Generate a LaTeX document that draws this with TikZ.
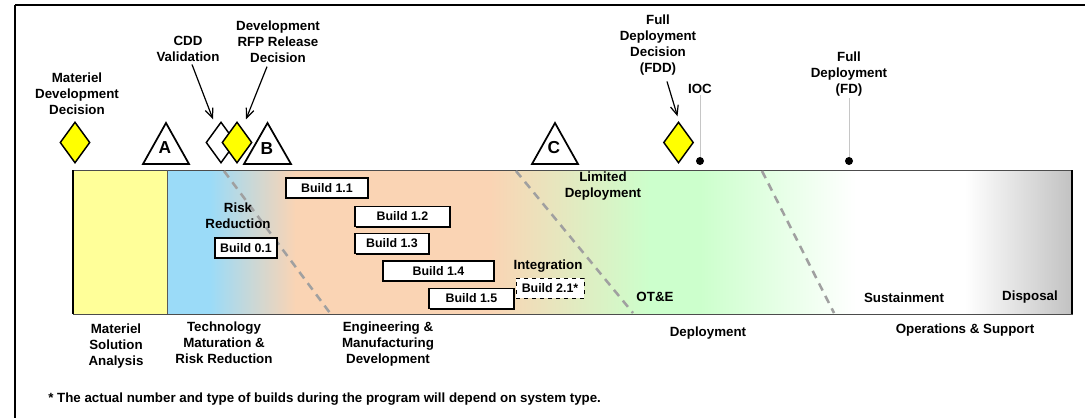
\documentclass[tikz,border=0pt]{standalone}
\usepackage{fontspec}
\setmainfont{Liberation Sans}
\usetikzlibrary{shapes.geometric,arrows.meta,shadows}
\definecolor{msayellow}{HTML}{FFFF99}
\definecolor{msyellow}{HTML}{FFFF00}
\definecolor{tmblue}{HTML}{9BDBF8}
\definecolor{peach}{HTML}{FAD4B4}
\definecolor{lgreen}{HTML}{CCFFCC}
\definecolor{dgrey}{HTML}{C2C2C2}
\definecolor{dashgrey}{HTML}{A0A0A0}
\begin{document}
\begin{tikzpicture}[x=0.75pt,y=-0.75pt]
\tikzset{
 lbl/.style={font=\fontsize{10}{12}\selectfont\bfseries, align=center, inner sep=0pt},
 buildbox/.style={draw, fill=white, line width=0.9pt, font=\fontsize{9.3}{11}\selectfont\bfseries, inner sep=0pt, minimum height=15pt, drop shadow={shadow xshift=0.8pt, shadow yshift=-0.8pt, fill=black, opacity=1}},
 dashbox/.style={draw, dashed, fill=white, line width=0.7pt, font=\fontsize{9.3}{11}\selectfont\bfseries, inner sep=0pt, minimum height=15pt},
 ms/.style={diamond, draw, line width=1.1pt, minimum width=22.5pt, minimum height=30.75pt, inner sep=0pt},
 phase/.style={dashgrey, line width=1.9pt, dash pattern=on 6pt off 4.5pt},
 tri/.style={draw, fill=white, line width=1.3pt, line join=miter},
 trilet/.style={font=\fontsize{13}{13}\selectfont\bfseries, inner sep=0pt},
 ptr/.style={line width=0.9pt, -{Straight Barb[length=7pt,width=6pt]}},
 stem/.style={gray!45, line width=0.6pt},
 dot/.style={circle, fill=black, inner sep=0pt, minimum size=6pt},
}
\useasboundingbox (0,0) rectangle (1085,418);
% frame
\draw[line width=1.5pt] (15,5) -- (1085,5);
\draw[line width=1.1pt] (15,5) -- (15,418);
% band
\fill[msayellow] (73,170) rectangle (167.5,314);
\fill[tmblue] (167,170) rectangle (210.5,314);
\shade[left color=tmblue,right color=peach] (210,170) rectangle (295.5,314);
\fill[peach] (295,170) rectangle (490.5,314);
\shade[left color=peach,right color=lgreen] (490,170) rectangle (650.5,314);
\fill[lgreen] (650,170) rectangle (700.5,314);
\shade[left color=lgreen,right color=white] (700,170) rectangle (855.5,314);
\fill[white] (855,170) rectangle (965.5,314);
\shade[left color=white,right color=dgrey] (965,170) rectangle (1072,314);
\draw[gray!60!black, line width=0.6pt] (73,170) rectangle (1072,314);
\draw[gray!70!black, line width=0.5pt] (167,170) -- (167,314);
\draw[line width=1.2pt] (73,170) -- (73,314);
\draw[line width=1.2pt] (1072,170) -- (1072,314);
% phase dividers
\draw[phase] (224,171) -- (330,313);
\draw[phase] (516,171) -- (633,313);
\draw[phase] (762,171) -- (834,313);
% builds
\node[buildbox, minimum width=61.5pt] (b11) at (327,188) {Build 1.1};
\node[buildbox, minimum width=46.5pt] (b01) at (246,248) {Build 0.1};
\node[buildbox, minimum width=71.25pt] (b12) at (402.5,216.5) {Build 1.2};
\node[buildbox, minimum width=55.5pt] (b13) at (392,243.5) {Build 1.3};
\node[buildbox, minimum width=83.25pt] (b14) at (438.5,271) {Build 1.4};
\node[buildbox, minimum width=63.75pt] (b15) at (471.5,298.5) {Build 1.5};
\node[dashbox, minimum width=51pt] (b21) at (550,288) {Build 2.1*};
% band labels
\node[lbl] (risk) at (238,215.5) {Risk\\Reduction};
\node[lbl] (ltd) at (603,186) {Limited\\Deployment};
\node[lbl] (integ) at (548,266) {Integration};
\node[lbl] (ote) at (655,297) {OT\&E};
\node[lbl] (sust) at (904,298) {Sustainment};
\node[lbl] (disp) at (1030,297) {Disposal};
% phase names
\node[lbl] (msa) at (116,346) {Materiel\\Solution\\Analysis};
\node[lbl] (tmrr) at (224,343) {Technology\\Maturation \&\\Risk Reduction};
\node[lbl] (emd) at (388,344) {Engineering \&\\Manufacturing\\Development};
\node[lbl] (pd) at (708,333) {Deployment};
\node[lbl] (os) at (965,330) {Operations \& Support};
\node[lbl, anchor=west] (note) at (48,399) {* The actual number and type of builds during the program will depend on system type.};
% milestones
\node[ms, fill=msyellow] (mdd) at (75,142.5) {};
\node[lbl] (mddl) at (77,93.5) {Materiel\\Development\\Decision};
\draw[tri] (166,123) -- (189,164) -- (143,164) -- cycle;
\node[trilet] (ma) at (165,148) {A};
\node[ms, fill=white] (cdd) at (221,142.5) {};
\node[ms, fill=msyellow] (rfp) at (237,142.5) {};
\draw[tri] (267.5,123) -- (291,164) -- (244,164) -- cycle;
\node[trilet] (mb) at (267,149) {B};
\draw[tri] (555,123) -- (578,164) -- (532,164) -- cycle;
\node[trilet] (mc) at (554,148) {C};
\node[ms, fill=msyellow] (fdd) at (678.5,142.5) {};
\node[lbl] (cddl) at (188,48.5) {CDD\\Validation};
\node[lbl] (rfpl) at (278,41.5) {Development\\RFP Release\\Decision};
\node[lbl] (fddl) at (658,45) {Full\\Deployment\\Decision\\(FDD)};
\draw[ptr] ([shift={(4,3)}]cddl.south) -- ([shift={(-8,-2)}]cdd.north);
\draw[ptr] ([shift={(-11,4)}]rfpl.south) -- ([shift={(9,-2)}]rfp.north);
\draw[ptr] ([shift={(9,6)}]fddl.south) -- ([shift={(-1,-5)}]fdd.north);
% IOC and FD
\node[dot] (iocdot) at (700,161) {};
\node[lbl] (ioc) at (700,89) {IOC};
\draw[stem] (iocdot.north) -- ([yshift=-1pt]ioc.south);
\node[dot] (fddot) at (849,161) {};
\node[lbl] (fd) at (849,74) {Full\\Deployment\\(FD)};
\draw[stem] (fddot.north) -- ([yshift=-1pt]fd.south);
\end{tikzpicture}
\end{document}
